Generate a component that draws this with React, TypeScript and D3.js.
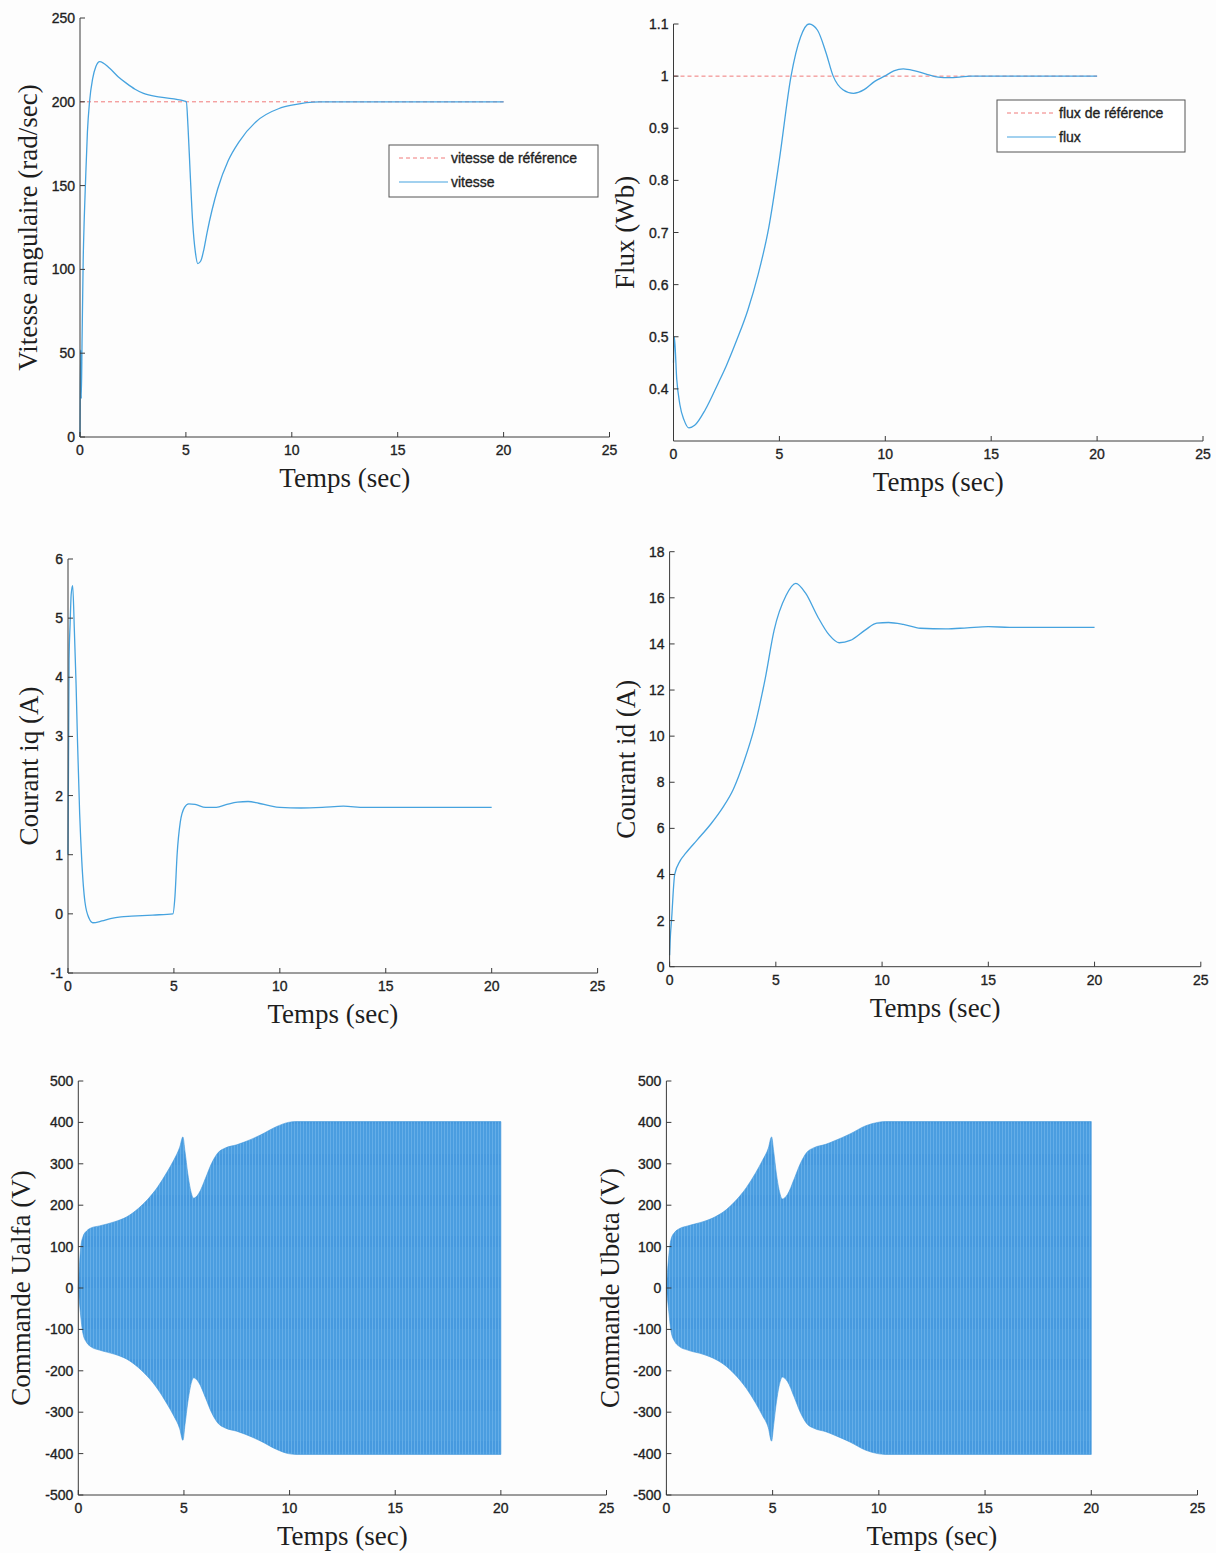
import React from "react";
import * as d3 from "d3";

// ---- data ----
const timeTicks = [0, 5, 10, 15, 20, 25];

const vitesseTime = [0, 0.03, 0.06, 0.1, 0.15, 0.2, 0.26, 0.35, 0.45, 0.6, 0.75, 0.93, 1.4, 1.8, 2.2, 2.6, 3, 3.8, 4.9, 5.02, 5.1, 5.2, 5.32, 5.45, 5.56, 5.7, 5.85, 6, 6.5, 7, 7.5, 8.3, 9.4, 10, 11.3, 20];
const vitesseValues = [0, 52, 23, 60, 105, 130, 152, 182, 200, 214, 221, 224, 220, 215, 211, 207.5, 205, 202.8, 200.5, 200, 185, 158, 128, 110, 103.5, 105, 112, 122, 148, 165, 176, 188, 196, 198, 200, 200];
const vitesseRef = 200;
const vitesseTicks = [0, 50, 100, 150, 200, 250];

const fluxTime = [0, 0.04, 0.15, 0.3, 0.5, 0.73, 1, 1.5, 2.1, 2.5, 3, 3.5, 4, 4.5, 5, 5.55, 6, 6.4, 6.8, 7.2, 7.54, 8, 8.5, 9, 9.5, 9.97, 10.4, 10.85, 11.4, 12, 12.5, 13, 13.5, 14, 20];
const fluxValues = [0.45, 0.5, 0.42, 0.37, 0.34, 0.325, 0.33, 0.36, 0.41, 0.445, 0.495, 0.55, 0.62, 0.71, 0.84, 1.0, 1.075, 1.1, 1.088, 1.045, 1.0, 0.974, 0.967, 0.974, 0.99, 1.0, 1.01, 1.014, 1.01, 1.003, 0.998, 0.997, 0.998, 1.0, 1.0];
const fluxRef = 1;
const fluxTicks = [0.4, 0.5, 0.6, 0.7, 0.8, 0.9, 1, 1.1];

const iqTime = [0, 0.05, 0.1, 0.15, 0.22, 0.3, 0.38, 0.45, 0.55, 0.65, 0.8, 1.0, 1.17, 1.6, 2, 2.5, 3, 4, 4.95, 5.05, 5.15, 5.3, 5.5, 5.7, 6, 6.5, 7, 7.5, 8, 8.5, 9, 9.5, 10, 11, 12, 13, 14, 20];
const iqValues = [1.0, 4.3, 4.9, 5.4, 5.55, 4.8, 3.9, 2.9, 1.7, 0.9, 0.2, -0.08, -0.15, -0.12, -0.08, -0.05, -0.04, -0.02, 0, 0.3, 1.0, 1.55, 1.8, 1.86, 1.85, 1.8, 1.8, 1.85, 1.89, 1.9, 1.87, 1.83, 1.8, 1.79, 1.8, 1.82, 1.8, 1.8];
const iqTicks = [-1, 0, 1, 2, 3, 4, 5, 6];

const idTime = [0, 0.03, 0.09, 0.24, 0.5, 0.74, 1.3, 1.95, 2.5, 3, 3.5, 4, 4.5, 4.92, 5.48, 5.94, 6.4, 6.96, 7.5, 7.98, 8.5, 9.2, 9.75, 10.3, 11, 11.8, 13, 14, 15, 16, 20];
const idValues = [0.5, 1.2, 2.0, 4.0, 4.6, 4.9, 5.5, 6.2, 6.9, 7.7, 8.9, 10.4, 12.5, 14.6, 16.1, 16.63, 16.2, 15.2, 14.4, 14.05, 14.15, 14.6, 14.9, 14.93, 14.85, 14.68, 14.65, 14.7, 14.75, 14.72, 14.72];
const idTicks = [0, 2, 4, 6, 8, 10, 12, 14, 16, 18];

// envelope of the fast oscillating commands
const voltTime = [0, 0.1, 0.22, 0.4, 0.6, 1, 1.72, 2.3, 2.84, 3.3, 3.77, 4.2, 4.52, 4.8, 4.95, 5.05, 5.18, 5.3, 5.46, 5.7, 6.02, 6.3, 6.6, 6.95, 7.5, 7.89, 8.64, 9.39, 9.94, 10.3, 20];
const ualfaUpper = [0, 90, 124, 138, 145, 150, 160, 172, 192, 215, 245, 280, 309, 340, 365, 330, 277, 240, 217, 228, 265, 300, 326, 338, 346, 353, 370, 390, 400, 402, 402];
const ualfaLower = [0, -60, -110, -132, -142, -150, -160, -172, -192, -215, -245, -280, -309, -340, -368, -330, -277, -240, -217, -228, -265, -300, -326, -338, -346, -353, -370, -390, -400, -402, -402];
const ubetaUpper = [0, 70, 118, 135, 143, 150, 160, 172, 190, 213, 243, 278, 308, 338, 365, 330, 275, 238, 215, 226, 264, 300, 327, 339, 347, 355, 372, 392, 400, 402, 402];
const ubetaLower = [0, -50, -105, -130, -141, -150, -160, -172, -190, -213, -243, -278, -308, -338, -370, -330, -275, -238, -215, -226, -264, -300, -327, -339, -347, -355, -372, -392, -400, -402, -402];
const voltTicks = [-500, -400, -300, -200, -100, 0, 100, 200, 300, 400, 500];

const BLUE = "#46a3df";
const RED = "#f07a7a";
const AXIS = "#3a3a3a";
const TICK_FONT = "'Liberation Sans', Arial, sans-serif";
const LABEL_FONT = "'Liberation Serif', 'Times New Roman', serif";

const zip = (t, v) => t.map((d, i) => ({ t: d, v: v[i] }));

const panels = [
	{
		key: "vitesse", left: 80, right: 609.5, top: 18, bottom: 437,
		yDomain: [0, 250], yTicks: vitesseTicks, ylabel: "Vitesse angulaire (rad/sec)", ylabelX: 28,
		line: zip(vitesseTime, vitesseValues), ref: vitesseRef,
		legend: { x: 389, y: 145, w: 209, h: 52, labels: ["vitesse de référence", "vitesse"] },
	},
	{
		key: "flux", left: 673.5, right: 1203, top: 24, bottom: 441,
		yDomain: [0.3, 1.1], yTicks: fluxTicks, ylabel: "Flux (Wb)", ylabelX: 625,
		line: zip(fluxTime, fluxValues), ref: fluxRef,
		legend: { x: 997, y: 100, w: 188, h: 52, labels: ["flux de référence", "flux"] },
	},
	{
		key: "iq", left: 68, right: 597.6, top: 559, bottom: 973,
		yDomain: [-1, 6], yTicks: iqTicks, ylabel: "Courant iq (A)", ylabelX: 29,
		line: zip(iqTime, iqValues),
	},
	{
		key: "id", left: 669.6, right: 1200.8, top: 551.7, bottom: 966.7,
		yDomain: [0, 18], yTicks: idTicks, ylabel: "Courant id (A)", ylabelX: 626,
		line: zip(idTime, idValues),
	},
	{
		key: "ualfa", left: 78.3, right: 606.5, top: 1081, bottom: 1495,
		yDomain: [-500, 500], yTicks: voltTicks, ylabel: "Commande Ualfa (V)", ylabelX: 21,
		band: voltTime.map((t, i) => ({ t, hi: ualfaUpper[i], lo: ualfaLower[i] })),
	},
	{
		key: "ubeta", left: 666.4, right: 1197.5, top: 1081, bottom: 1495,
		yDomain: [-500, 500], yTicks: voltTicks, ylabel: "Commande Ubeta (V)", ylabelX: 610,
		band: voltTime.map((t, i) => ({ t, hi: ubetaUpper[i], lo: ubetaLower[i] })),
	},
];

function Panel({ p }) {
	const x = d3.scaleLinear().domain([0, 25]).range([p.left, p.right]);
	const y = d3.scaleLinear().domain(p.yDomain).range([p.bottom, p.top]);
	// matlab prints a plain hyphen for negatives
	const fmt = (v) => String(+v.toFixed(2));

	const line = d3
		.line()
		.x((d) => x(d.t))
		.y((d) => y(d.v))
		.curve(d3.curveMonotoneX);

	const area = d3
		.area()
		.x((d) => x(d.t))
		.y0((d) => y(d.lo))
		.y1((d) => y(d.hi))
		.curve(d3.curveMonotoneX);

	const cx = (p.left + p.right) / 2;
	const cy = (p.top + p.bottom) / 2;
	const tickText = { fontFamily: TICK_FONT, fontSize: 14, fill: "#1f1f1f", stroke: "#1f1f1f", strokeWidth: 0.35 };

	return (
		<g>
			{p.band && <path d={area(p.band)} fill="url(#cmdStripes)" stroke="#3f96da" strokeWidth={0.6} />}
			{p.ref !== undefined && (
				<line x1={x(0)} x2={x(20)} y1={y(p.ref)} y2={y(p.ref)} stroke={RED} strokeWidth={1} strokeDasharray="4,3" />
			)}
			{p.line && <path d={line(p.line)} fill="none" stroke={BLUE} strokeWidth={1.3} />}

			{/* axes, ticks pointing inward like matlab */}
			<line x1={p.left} x2={p.right} y1={p.bottom} y2={p.bottom} stroke={AXIS} strokeWidth={1} />
			<line x1={p.left} x2={p.left} y1={p.bottom} y2={p.top} stroke={AXIS} strokeWidth={1} />
			{timeTicks.map((t) => (
				<g key={"x" + t}>
					<line x1={x(t)} x2={x(t)} y1={p.bottom} y2={p.bottom - 5} stroke={AXIS} />
					<text x={x(t)} y={p.bottom + 13} textAnchor="middle" dominantBaseline="central" {...tickText}>{t}</text>
				</g>
			))}
			{p.yTicks.map((v) => (
				<g key={"y" + v}>
					<line x1={p.left} x2={p.left + 5} y1={y(v)} y2={y(v)} stroke={AXIS} />
					<text x={p.left - 5} y={y(v)} textAnchor="end" dominantBaseline="central" {...tickText}>{fmt(v)}</text>
				</g>
			))}

			<text x={cx} y={p.bottom + 41} textAnchor="middle" dominantBaseline="central"
				fontFamily={LABEL_FONT} fontSize={27} fill="#1e1e1e">Temps (sec)</text>
			<text transform={`translate(${p.ylabelX},${cy}) rotate(-90)`} textAnchor="middle" dominantBaseline="central"
				fontFamily={LABEL_FONT} fontSize={27} fill="#1e1e1e">{p.ylabel}</text>

			{p.legend && (
				<g transform={`translate(${p.legend.x},${p.legend.y})`}>
					<rect width={p.legend.w} height={p.legend.h} fill="#fff" stroke="#555" strokeWidth={1} />
					<line x1={10} x2={59} y1={13} y2={13} stroke={RED} strokeDasharray="4,3" />
					<text x={62} y={13} dominantBaseline="central" {...tickText}>{p.legend.labels[0]}</text>
					<line x1={10} x2={59} y1={37} y2={37} stroke={BLUE} strokeWidth={1.2} />
					<text x={62} y={37} dominantBaseline="central" {...tickText}>{p.legend.labels[1]}</text>
				</g>
			)}
		</g>
	);
}

export default function App() {
	return (
		<svg width={1216} height={1553} style={{ position: "absolute", left: 0, top: 0, background: "#fdfdfd" }}>
			<defs>
				<pattern id="cmdStripes" width={3} height={41} patternUnits="userSpaceOnUse">
					<rect width={3} height={41} fill="#4a9de0" />
					<line x1={0.5} x2={0.5} y1={0} y2={41} stroke="#6cb3ea" strokeWidth={0.8} />
					<line x1={2} x2={2} y1={6} y2={17} stroke="#2f84d2" strokeWidth={0.7} opacity={0.45} />
				</pattern>
			</defs>
			{panels.map((p) => (
				<Panel key={p.key} p={p} />
			))}
		</svg>
	);
}
